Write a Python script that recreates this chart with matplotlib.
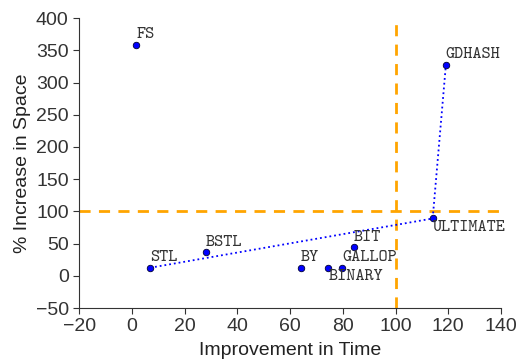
import matplotlib
matplotlib.use("Agg")
import matplotlib.pyplot as plt

# data
names = ["FS", "GDHASH", "ULTIMATE", "BIT", "BY", "BINARY", "GALLOP", "STL", "BSTL"]
time_impr = [1.6, 119.1, 114.1, 84.3, 64.2, 74.5, 79.7, 7.0, 28.0]
space_incr = [358, 327, 89, 44, 12.6, 12.6, 12.6, 12.6, 36.5]
frontier = ["STL", "ULTIMATE", "GDHASH"]

# label offsets in points (dx, dy, va)
offsets = {
    "FS": (0, 2, "bottom"),
    "GDHASH": (0, 2, "bottom"),
    "ULTIMATE": (0, -1, "top"),
    "BIT": (0, 2, "bottom"),
    "BY": (0, 2, "bottom"),
    "BINARY": (0, -1, "top"),
    "GALLOP": (0, 2, "bottom"),
    "STL": (0, 2, "bottom"),
    "BSTL": (0, 2, "bottom"),
}

plt.rcParams['font.family'] = ['Liberation Sans', 'DejaVu Sans']

fig = plt.figure(figsize=(5.17, 3.62), dpi=100)
ax = fig.add_axes([0.153, 0.149, 0.816, 0.801])

ax.axvline(100, color='#ffa500', linestyle=(0, (4, 3)), linewidth=2, zorder=1)
ax.axhline(100, color='#ffa500', linestyle=(0, (4, 3)), linewidth=2, zorder=1)

fx = [time_impr[names.index(n)] for n in frontier]
fy = [space_incr[names.index(n)] for n in frontier]
ax.plot(fx, fy, color='blue', linestyle=':', linewidth=1.3, zorder=2)

ax.scatter(time_impr, space_incr, s=22, color='blue', edgecolors='#000033',
           linewidths=0.6, zorder=3)

for n, x, y in zip(names, time_impr, space_incr):
    dx, dy, va = offsets[n]
    ax.annotate(n, (x, y), xytext=(dx, dy), textcoords='offset points',
                ha='left', va=va, fontsize=12.5, family='cmtt10', color='#333333')

ax.set_xlim(-20, 140)
ax.set_ylim(-50, 400)
ax.set_xticks(range(-20, 141, 20))
ax.set_yticks(range(-50, 401, 50))
for s in ['top', 'right']:
    ax.spines[s].set_visible(False)
for s in ['left', 'bottom']:
    ax.spines[s].set_color('#333333')
ax.tick_params(direction='out', length=4, colors='#333333', labelsize=14)
ax.set_xlabel('Improvement in Time', fontsize=14, color='#222222', labelpad=5)
ax.set_ylabel('% Increase in Space', fontsize=14, color='#222222', labelpad=3)

fig.savefig("out.png", dpi=100)
